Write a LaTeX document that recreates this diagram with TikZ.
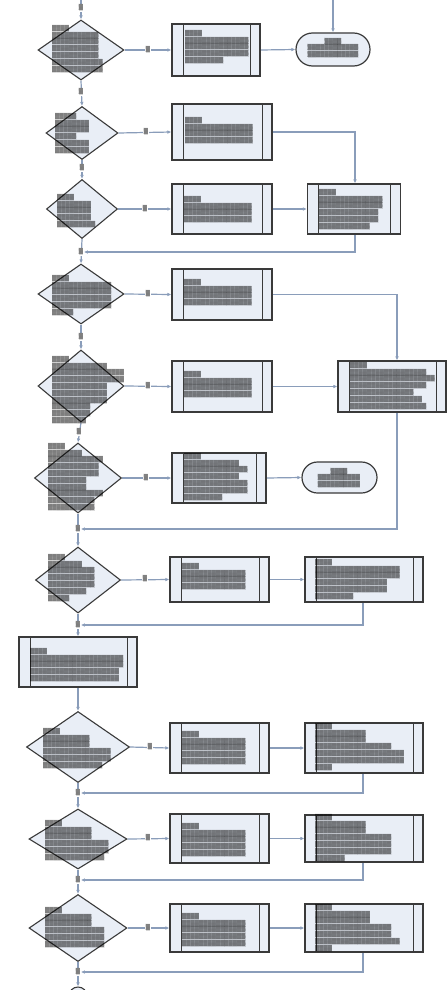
\documentclass[tikz,border=0pt]{standalone}
\usepackage{fontspec}
\usetikzlibrary{shapes.geometric,shapes.misc,arrows.meta}
\newfontfamily\obfam{DejaVu Sans}
\definecolor{conncol}{HTML}{8A9DBA}
\definecolor{boxfill}{HTML}{E9EEF6}
\definecolor{edgecol}{HTML}{3A3A3A}
\pgfdeclarelayer{back}\pgfdeclarelayer{bg}\pgfsetlayers{back,bg,main}
\ExplSyntaxOn
\box_new:N \l_ob_box
\int_new:N \l_ob_int
\tl_new:N \l_ob_tl
\NewDocumentCommand\obrow{m}{
  \hbox_set:Nn \l_ob_box {▒}
  \int_set:Nn \l_ob_int { \dim_ratio:nn {#1pt} {\box_wd:N \l_ob_box} }
  \int_compare:nNnT {\l_ob_int} < {1} {\int_set:Nn \l_ob_int {1}}
  \prg_replicate:nn {\l_ob_int} {▒}
}
\NewDocumentCommand\obt{m}{
  \tl_clear:N \l_ob_tl
  \clist_map_inline:nn {#1} {
    \tl_if_empty:NF \l_ob_tl { \tl_put_right:Nn \l_ob_tl {\\} }
    \tl_put_right:Nn \l_ob_tl { \obrow{##1} }
  }
  \tl_use:N \l_ob_tl
}
\ExplSyntaxOff
\tikzset{
  conn/.style={draw=conncol, line width=1.2pt, -{Latex[length=4pt,width=3.6pt]}},
  pbox/.style={draw=edgecol, line width=1.2pt, fill=boxfill, inner sep=0pt,
    path picture={
      \draw[edgecol, line width=1pt] ([xshift=11pt]path picture bounding box.north west) -- ([xshift=11pt]path picture bounding box.south west);
      \draw[edgecol, line width=1pt] ([xshift=-10pt]path picture bounding box.north east) -- ([xshift=-10pt]path picture bounding box.south east);}},
  dia/.style={diamond, draw=edgecol, line width=1.1pt, fill=boxfill, inner sep=0pt},
  term/.style={rounded rectangle, draw=edgecol, line width=1.2pt, fill=boxfill, inner sep=0pt},
  txt/.style={inner sep=0pt, anchor=north west, align=left, text=black, font=\obfam\fontsize{5.5}{6.8}\selectfont},
  ctxt/.style={inner sep=0pt, anchor=center, align=center, text=black, font=\obfam\fontsize{5.5}{6.8}\selectfont},
  lab/.style={inner sep=0.6pt, fill=white, text=black, font=\obfam\fontsize{5.5}{5.5}\selectfont}
}
\begin{document}
\begin{tikzpicture}[x=1pt,y=-1pt]
\useasboundingbox (0,0) rectangle (447,990);
\clip (0,0) rectangle (447,990);
\begin{pgfonlayer}{back}
\fill[white] (0,0) rectangle (447,990);
\end{pgfonlayer}
% diamonds
\node[dia, minimum width=86pt, minimum height=60pt] (d1) at (81,50) {};
\node[dia, minimum width=72pt, minimum height=53pt] (d2) at (82,133) {};
\node[dia, minimum width=71pt, minimum height=59pt] (d3) at (82,209) {};
\node[dia, minimum width=86pt, minimum height=60pt] (d4) at (81,294) {};
\node[dia, minimum width=86pt, minimum height=72pt] (d5) at (81,386) {};
\node[dia, minimum width=87pt, minimum height=70pt] (d6) at (78,478) {};
\node[dia, minimum width=85pt, minimum height=66pt] (d7) at (78,580) {};
\node[dia, minimum width=103pt, minimum height=71pt] (d8) at (78,747) {};
\node[dia, minimum width=98pt, minimum height=60pt] (d9) at (78,839) {};
\node[dia, minimum width=98pt, minimum height=67pt] (d10) at (78,928) {};
% process boxes
\node[pbox, minimum width=88pt, minimum height=52pt] (b1) at (216,50) {};
\node[pbox, minimum width=100pt, minimum height=56pt] (b2) at (222,132) {};
\node[pbox, minimum width=100pt, minimum height=50pt] (b3a) at (222,209) {};
\node[pbox, minimum width=93pt, minimum height=50pt] (b3b) at (354,209) {};
\node[pbox, minimum width=100pt, minimum height=51pt] (b4a) at (222,294.5) {};
\node[pbox, minimum width=100pt, minimum height=51pt] (b5a) at (222,386.5) {};
\node[pbox, minimum width=108pt, minimum height=51pt] (b5b) at (392,386.5) {};
\node[pbox, minimum width=94pt, minimum height=50pt] (b6a) at (219,478) {};
\node[pbox, minimum width=99pt, minimum height=45pt] (b7a) at (219.5,579.5) {};
\node[pbox, minimum width=118pt, minimum height=45pt] (b7b) at (364,579.5) {};
\node[pbox, minimum width=118pt, minimum height=50pt] (b8) at (78,662) {};
\node[pbox, minimum width=99pt, minimum height=50pt] (b9a) at (219.5,748) {};
\node[pbox, minimum width=118pt, minimum height=50pt] (b9b) at (364,748) {};
\node[pbox, minimum width=99pt, minimum height=49pt] (b10a) at (219.5,838.5) {};
\node[pbox, minimum width=118pt, minimum height=47pt] (b10b) at (364,838.5) {};
\node[pbox, minimum width=99pt, minimum height=48pt] (b11a) at (219.5,928) {};
\node[pbox, minimum width=118pt, minimum height=48pt] (b11b) at (364,928) {};
% terminals
\node[term, minimum width=74pt, minimum height=33pt] (t1) at (333,49.5) {};
\node[term, minimum width=75pt, minimum height=31pt] (t2) at (339.5,477.5) {};
\node[circle, draw=edgecol, line width=1.1pt, fill=boxfill, minimum size=18pt, inner sep=0pt] (endc) at (78,996) {};
% texts
\node[txt] (d1t) at (52,25) {\obt{18,48,48,48,48,50,52}};
\node[txt] (b1t) at (185,30) {\obt{19,64,64,64,40}};
\node[ctxt] (t1t) at (333,48) {\obt{18,50,50}};
\node[txt] (d2t) at (55,113) {\obt{20,33,33,20,33,33}};
\node[txt] (b2t) at (185,117) {\obt{19,67,67,67}};
\node[txt] (d3t) at (57,194) {\obt{15,33,33,33,40}};
\node[txt] (b3at) at (184,196) {\obt{19,66,66,66}};
\node[txt] (b3bt) at (319,189) {\obt{17,64,64,60,58,51}};
\node[txt] (d4t) at (52,275) {\obt{18,58,58,58,58,20}};
\node[txt] (b4at) at (184,279) {\obt{19,66,66,66}};
\node[txt] (d5t) at (52,356) {\obt{17,55,71,71,55,55,55,40,40,35}};
\node[txt] (b5at) at (184,371) {\obt{19,66,66,66}};
\node[txt] (b5bt) at (350,362) {\obt{17,77,85,77,65,73,77}};
\node[txt] (d6t) at (48,443) {\obt{17,35,57,52,52,38,38,57,48,48}};
\node[txt] (b6at) at (184,453) {\obt{17,56,63,56,64,62,40}};
\node[ctxt] (t2t) at (339,478) {\obt{17,43,43}};
\node[txt] (d7t) at (48,554) {\obt{17,32,48,48,48,38,20}};
\node[txt] (b7at) at (182,563) {\obt{17,65,65,65}};
\node[txt] (b7bt) at (315,559) {\obt{18,85,85,73,73,38}};
\node[txt] (b8t) at (30,648) {\obt{19,94,94,88,88}};
\node[txt] (d8t) at (43,728) {\obt{15,45,45,67,67,60}};
\node[txt] (b9at) at (182,731) {\obt{17,65,65,65,65}};
\node[txt] (b9bt) at (315,723) {\obt{18,50,50,78,87,87,18}};
\node[txt] (d9t) at (45,820) {\obt{15,48,48,65,65,58}};
\node[txt] (b10at) at (182,823) {\obt{17,65,65,65,65}};
\node[txt] (b10bt) at (315,814) {\obt{18,50,50,78,78,78,30}};
\node[txt] (d10t) at (45,907) {\obt{15,48,48,58,58,60}};
\node[txt] (b11at) at (182,913) {\obt{17,65,65,65,65}};
\node[txt] (b11bt) at (315,904) {\obt{18,55,55,78,78,85,18}};
% connector labels
\node[lab] (l01) at (81,8) {▒};
\node[lab] (l12) at (81,92) {▒};
\node[lab] (l23) at (82,168) {▒};
\node[lab] (l34) at (81,252) {▒};
\node[lab] (l45) at (81,337) {▒};
\node[lab] (l56) at (79,432) {▒};
\node[lab] (l67) at (78,529) {▒};
\node[lab] (l78) at (78,625) {▒};
\node[lab] (l89) at (78,793) {▒};
\node[lab] (l910) at (78,880) {▒};
\node[lab] (l10e) at (78,972) {▒};
\node[lab] (h1) at (148,50) {▒};
\node[lab] (h2) at (146,132) {▒};
\node[lab] (h3) at (145,209) {▒};
\node[lab] (h4) at (148,294) {▒};
\node[lab] (h5) at (148,386) {▒};
\node[lab] (h6) at (146,478) {▒};
\node[lab] (h7) at (145,579) {▒};
\node[lab] (h8) at (150,747) {▒};
\node[lab] (h9) at (148,838) {▒};
\node[lab] (h10) at (148,928) {▒};
\coordinate (top1) at (81,0);
\coordinate (top2) at (333,0);
\begin{pgfonlayer}{bg}
% spine
\draw[conn] (top1) -- (d1.north);
\draw[conn] (d1.south) -- (d2.north);
\draw[conn] (d2.south) -- (d3.north);
\draw[conn] (d3.south) -- (d4.north);
\draw[conn] (d4.south) -- (d5.north);
\draw[conn] (d5.south) -- (d6.north);
\draw[conn] (d6.south) -- (d7.north);
\draw[conn] (d7.south) -- (b8.north);
\draw[conn] (b8.south) -- (d8.north);
\draw[conn] (d8.south) -- (d9.north);
\draw[conn] (d9.south) -- (d10.north);
\draw[conn] (d10.south) -- (endc.north);
% branches
\draw[conn] (top2) -- (t1.north);
\draw[conn] (d1.east) -- (b1.west);
\draw[conn] (b1.east) -- (t1.west);
\draw[conn] (d2.east) -- (b2.west);
\draw[conn] (b2.east) -| ([xshift=1pt]b3b.north);
\draw[conn] (d3.east) -- (b3a.west);
\draw[conn] (b3a.east) -- (b3b.west);
\draw[conn] ([xshift=1pt]b3b.south) |- (l34.east);
\draw[conn] (d4.east) -- (b4a.west);
\draw[conn] (b4a.east) -| ([xshift=5pt]b5b.north);
\draw[conn] (d5.east) -- (b5a.west);
\draw[conn] (b5a.east) -- (b5b.west);
\draw[conn] ([xshift=5pt]b5b.south) |- (l67.east);
\draw[conn] (d6.east) -- (b6a.west);
\draw[conn] (b6a.east) -- (t2.west);
\draw[conn] (d7.east) -- (b7a.west);
\draw[conn] (b7a.east) -- (b7b.west);
\draw[conn] ([xshift=-1pt]b7b.south) |- (l78.east);
\draw[conn] (d8.east) -- (b9a.west);
\draw[conn] (b9a.east) -- (b9b.west);
\draw[conn] ([xshift=-1pt]b9b.south) |- (l89.east);
\draw[conn] (d9.east) -- (b10a.west);
\draw[conn] (b10a.east) -- (b10b.west);
\draw[conn] ([xshift=-1pt]b10b.south) |- (l910.east);
\draw[conn] (d10.east) -- (b11a.west);
\draw[conn] (b11a.east) -- (b11b.west);
\draw[conn] ([xshift=-1pt]b11b.south) |- (l10e.east);
\end{pgfonlayer}
\end{tikzpicture}
\end{document}
